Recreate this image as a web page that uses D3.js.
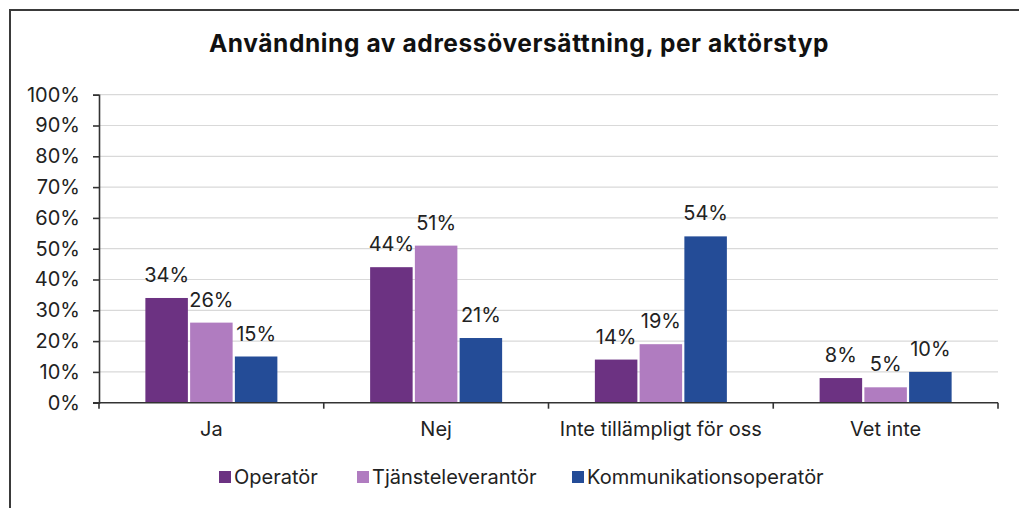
<!DOCTYPE html>
<html>
<head>
<meta charset="utf-8">
<script src="https://cdn.jsdelivr.net/npm/d3@7"></script>
<style>
  html, body { margin: 0; padding: 0; background: #fff; }
  svg { display: block; }
  text { font-family: Inter, "Liberation Sans", Arial, sans-serif; fill: #222; }
</style>
</head>
<body>
<svg id="chart" width="1019" height="508"></svg>
<script>
// Survey answers per actor type (share of respondents)
const categories = ["Ja", "Nej", "Inte tillämpligt för oss", "Vet inte"];
const seriesNames = ["Operatör", "Tjänsteleverantör", "Kommunikationsoperatör"];
const operator = [0.34, 0.44, 0.14, 0.08];
const tjansteleverantor = [0.26, 0.51, 0.19, 0.05];
const kommunikationsoperator = [0.15, 0.21, 0.54, 0.10];
const yTicks = [0, 0.1, 0.2, 0.3, 0.4, 0.5, 0.6, 0.7, 0.8, 0.9, 1.0];
const colors = ["#6c3282", "#b07cc0", "#244c97"];

const seriesValues = [operator, tjansteleverantor, kommunikationsoperator];
const rows = categories.map((c, i) => ({
  category: c,
  values: seriesNames.map((s, j) => ({ series: s, idx: j, value: seriesValues[j][i] }))
}));

const svg = d3.select("#chart");
const plot = { left: 99, right: 998, top: 94.7, bottom: 402.7 };
const fontFamily = "Inter, 'Liberation Sans', Arial, sans-serif";
const labelSize = 20;

// outer frame (top and left edges visible)
svg.append("path")
  .attr("d", "M10,508 L10,10 L1019,10")
  .attr("fill", "none").attr("stroke", "#3a3a3a").attr("stroke-width", 2);

// title
svg.append("text")
  .attr("x", 519).attr("y", 52)
  .attr("text-anchor", "middle")
  .attr("font-size", 24.5).attr("font-weight", "bold")
  .attr("letter-spacing", 0.6)
  .style("fill", "#111")
  .text("Användning av adressöversättning, per aktörstyp");

const x0 = d3.scaleBand().domain(categories).range([plot.left, plot.right]).padding(0);
const groupWidth = 132;
const x1 = d3.scaleBand().domain(seriesNames)
  .range([(x0.bandwidth() - groupWidth) / 2, (x0.bandwidth() + groupWidth) / 2])
  .paddingInner(0.05);
const y = d3.scaleLinear().domain([0, 1]).range([plot.bottom, plot.top]);

// horizontal gridlines
svg.append("g").selectAll("line").data(yTicks.filter(t => t > 0)).join("line")
  .attr("x1", plot.left).attr("x2", plot.right)
  .attr("y1", d => y(d)).attr("y2", d => y(d))
  .attr("stroke", "#d9d9d9").attr("stroke-width", 1.2);

// y axis
const yAxis = d3.axisLeft(y).tickValues(yTicks)
  .tickFormat(d3.format(".0%")).tickSize(6).tickPadding(13);
const gy = svg.append("g").attr("transform", `translate(${plot.left},0)`).call(yAxis);
gy.select(".domain").attr("stroke", "#333").attr("stroke-width", 1.6);
gy.selectAll(".tick line").attr("stroke", "#333").attr("stroke-width", 1.6);
gy.selectAll(".tick text").attr("font-size", labelSize).attr("font-family", fontFamily).style("fill", "#222");

// bars
const groups = svg.append("g").selectAll("g").data(rows).join("g")
  .attr("transform", d => `translate(${x0(d.category)},0)`);

groups.selectAll("rect").data(d => d.values).join("rect")
  .attr("x", d => x1(d.series))
  .attr("width", x1.bandwidth())
  .attr("y", d => y(d.value))
  .attr("height", d => plot.bottom - y(d.value))
  .attr("fill", d => colors[d.idx]);

// value labels
groups.selectAll("text.val").data(d => d.values).join("text")
  .attr("class", "val")
  .attr("x", d => x1(d.series) + x1.bandwidth() / 2)
  .attr("y", d => y(d.value) - 16)
  .attr("text-anchor", "middle")
  .attr("font-size", labelSize)
  .text(d => d3.format(".0%")(d.value));

// x axis with ticks between categories
const gx = svg.append("g");
gx.append("line")
  .attr("x1", plot.left - 6).attr("x2", plot.right)
  .attr("y1", plot.bottom).attr("y2", plot.bottom)
  .attr("stroke", "#333").attr("stroke-width", 1.6);
const boundaries = categories.map(c => x0(c)).concat([plot.right]);
gx.selectAll("line.tick").data(boundaries).join("line")
  .attr("class", "tick")
  .attr("x1", d => d).attr("x2", d => d)
  .attr("y1", plot.bottom).attr("y2", plot.bottom + 6)
  .attr("stroke", "#333").attr("stroke-width", 1.6);
gx.selectAll("text").data(categories).join("text")
  .attr("x", d => x0(d) + x0.bandwidth() / 2)
  .attr("y", 436)
  .attr("text-anchor", "middle")
  .attr("font-size", labelSize)
  .text(d => d);

// legend
const legendItems = [
  { name: seriesNames[0], x: 219 },
  { name: seriesNames[1], x: 357 },
  { name: seriesNames[2], x: 572 }
];
const lg = svg.append("g").selectAll("g").data(legendItems).join("g")
  .attr("transform", d => `translate(${d.x},471)`);
lg.append("rect").attr("width", 12).attr("height", 12)
  .attr("fill", (d, i) => colors[i]);
lg.append("text").attr("x", 15).attr("y", 13)
  .attr("font-size", labelSize)
  .text(d => d.name);
</script>
</body>
</html>
